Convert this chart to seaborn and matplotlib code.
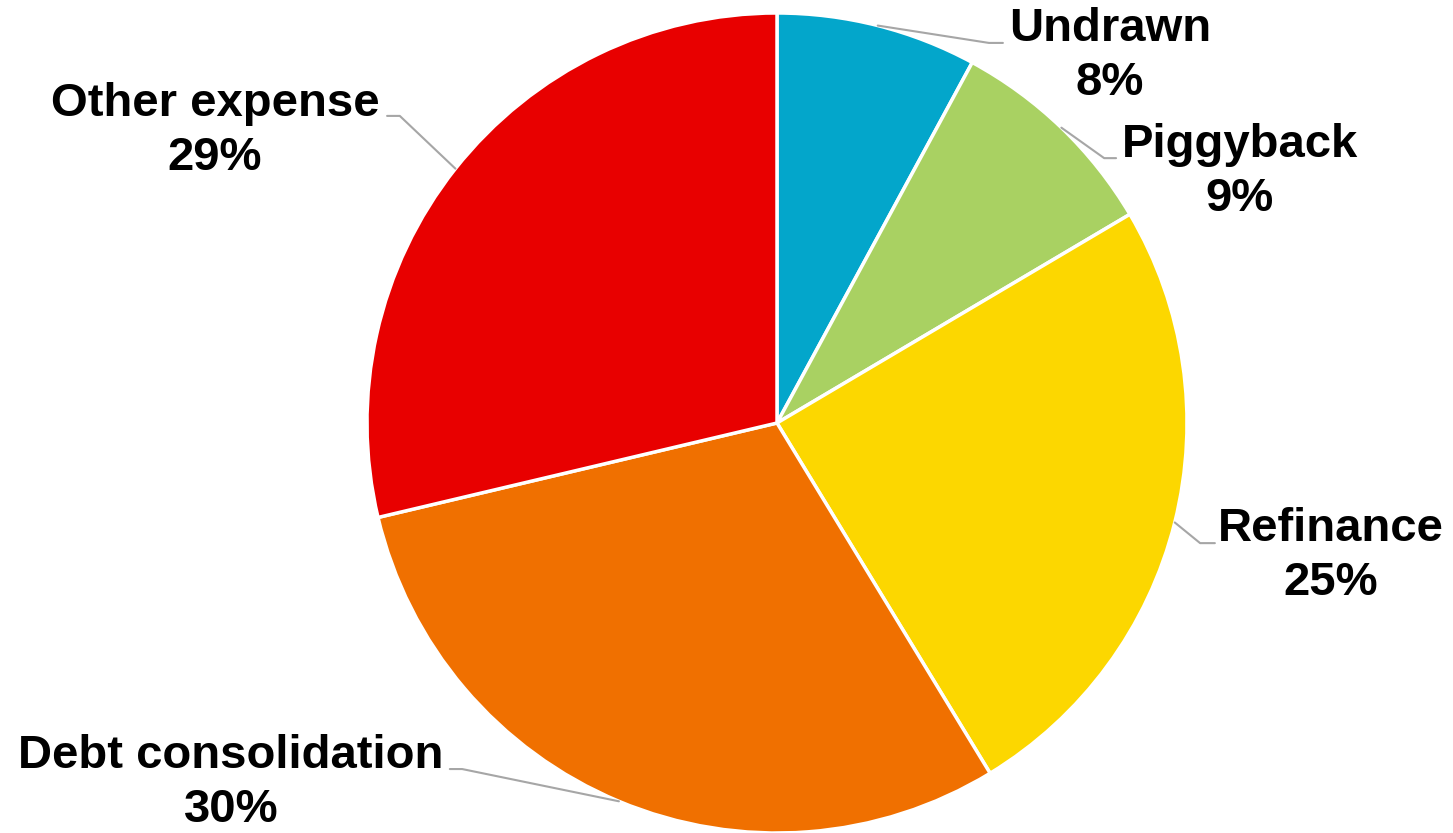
import numpy as np
import matplotlib.pyplot as plt
import seaborn as sns

# Datos
categorias = ["Undrawn", "Piggyback", "Refinance", "Debt consolidation", "Other expense"]
valores = [7.9, 8.6, 24.8, 30.0, 28.7]
etiquetas_pct = ["8%", "9%", "25%", "30%", "29%"]
colores = ["#03A6CB", "#A9D162", "#FCD700", "#F07000", "#E80000"]

# Posiciones de las etiquetas (centro del texto) y del codo de la línea guía, en radios
pos_texto = [(0.812, 0.895), (1.129, 0.612), (1.351, -0.325), (-1.332, -0.878), (-1.371, 0.712)]
pos_codo = [(0.517, 0.927), (0.798, 0.646), (1.032, -0.293), (-0.768, -0.844), (-0.920, 0.749)]
pos_fin = [0.551, 0.827, 1.068, -0.798, -0.951]

sns.set_theme(style="white")
plt.rcParams["font.family"] = ["Liberation Sans", "DejaVu Sans"]

fig = plt.figure(figsize=(14.53, 8.33), dpi=100)
ax = fig.add_axes([0, 0, 1, 1])

wedges, _ = ax.pie(valores, colors=colores, startangle=90, counterclock=False,
                   radius=1, wedgeprops=dict(edgecolor="white", linewidth=2.5))

for w, cat, pct, (tx, ty), (ex, ey), fx in zip(wedges, categorias, etiquetas_pct,
                                                pos_texto, pos_codo, pos_fin):
    ang = np.deg2rad((w.theta1 + w.theta2) / 2)
    sx, sy = np.cos(ang), np.sin(ang)
    ax.plot([sx, ex, fx], [sy, ey, ey], color="#A6A6A6", lw=1.5, zorder=3)
    ax.text(tx, ty, f"{cat}\n{pct}", ha="center", va="center", fontsize=34,
            fontweight="bold", color="black", linespacing=1.3)

ax.set_xlim(-777 / 410, (1453 - 777) / 410)
ax.set_ylim(-(833 - 423) / 410, 423 / 410)
ax.set_aspect("auto")
ax.axis("off")

fig.savefig("out.png", dpi=100, facecolor="white")
